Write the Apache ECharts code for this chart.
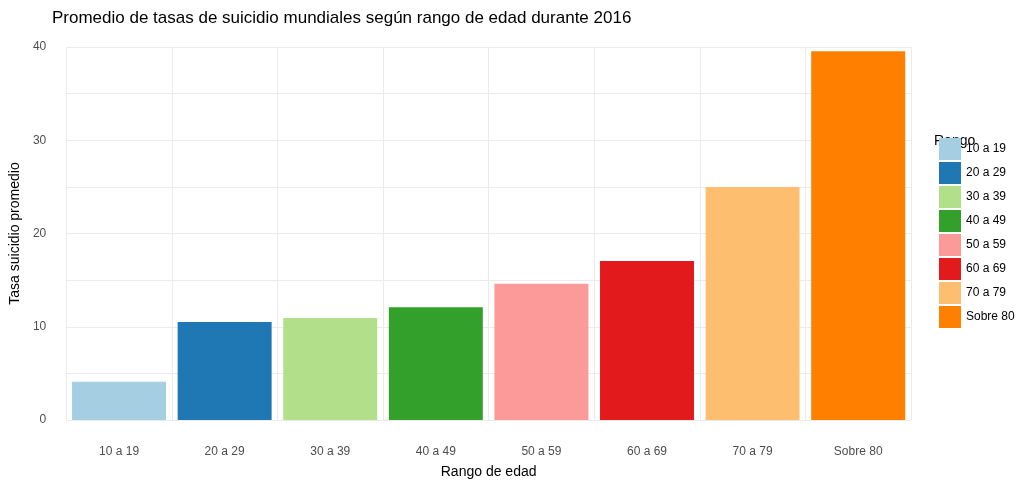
<!DOCTYPE html>
<html><head><meta charset="utf-8">
<script src="https://cdn.jsdelivr.net/npm/echarts@6/dist/echarts.min.js"></script>
<style>body{margin:0}#c{width:1029px;height:484px}</style></head>
<body><div id="c"></div>
<script>
var categories = ['10 a 19','20 a 29','30 a 39','40 a 49','50 a 59','60 a 69','70 a 79','Sobre 80'];
var values = [4.1, 10.5, 10.95, 12.1, 14.6, 17.05, 25.0, 39.55];
var colors = ['#a6cee3','#1f78b4','#b2df8a','#33a02c','#fb9a99','#e31a1c','#fdbf6f','#ff7f00'];

var series = categories.map(function (name, i) {
    var d = categories.map(function (c, j) { return j === i ? values[i] : null; });
    return {
        name: name, type: 'bar', data: d, barWidth: '89%', barGap: '-100%',
        itemStyle: {color: colors[i]}
    };
});

var chart = echarts.init(document.getElementById('c'));
chart.setOption({
    animation: false,
    textStyle: {fontFamily: 'Liberation Sans, Arial, sans-serif'},
    title: {
        text: 'Promedio de tasas de suicidio mundiales según rango de edad durante 2016',
        left: 47, top: 5,
        textStyle: {fontSize: 17, fontWeight: 'normal', color: '#000'}
    },
    legend: {
        data: categories, orient: 'vertical', left: 934, top: 133,
        itemWidth: 22, itemHeight: 22, itemGap: 2, icon: 'rect',
        textStyle: {fontSize: 12, color: '#000'}
    },
    graphic: [{type: 'text', left: 934, top: 134, style: {text: 'Rango', fontSize: 14, fill: '#000'}}],
    grid: {left: 57, right: 118, top: 47, bottom: 64},
    xAxis: {
        type: 'category', data: categories,
        axisLine: {show: false}, axisTick: {show: false},
        axisLabel: {color: '#4d4d4d', fontSize: 12, margin: 26},
        splitLine: {show: true, lineStyle: {color: '#ebebeb'}},
        name: 'Rango de edad', nameLocation: 'middle', nameGap: 45,
        nameTextStyle: {fontSize: 14, color: '#000'}
    },
    yAxis: {
        type: 'value', min: 0, max: 40, interval: 5,
        axisLabel: {color: '#4d4d4d', fontSize: 12, margin: 20,
            formatter: function (v) { return v % 10 === 0 ? v : ''; }},
        splitLine: {lineStyle: {color: '#ebebeb'}},
        name: 'Tasa suicidio promedio', nameLocation: 'middle', nameGap: 36,
        nameTextStyle: {fontSize: 14, color: '#000'}
    },
    series: series
});
</script></body></html>
